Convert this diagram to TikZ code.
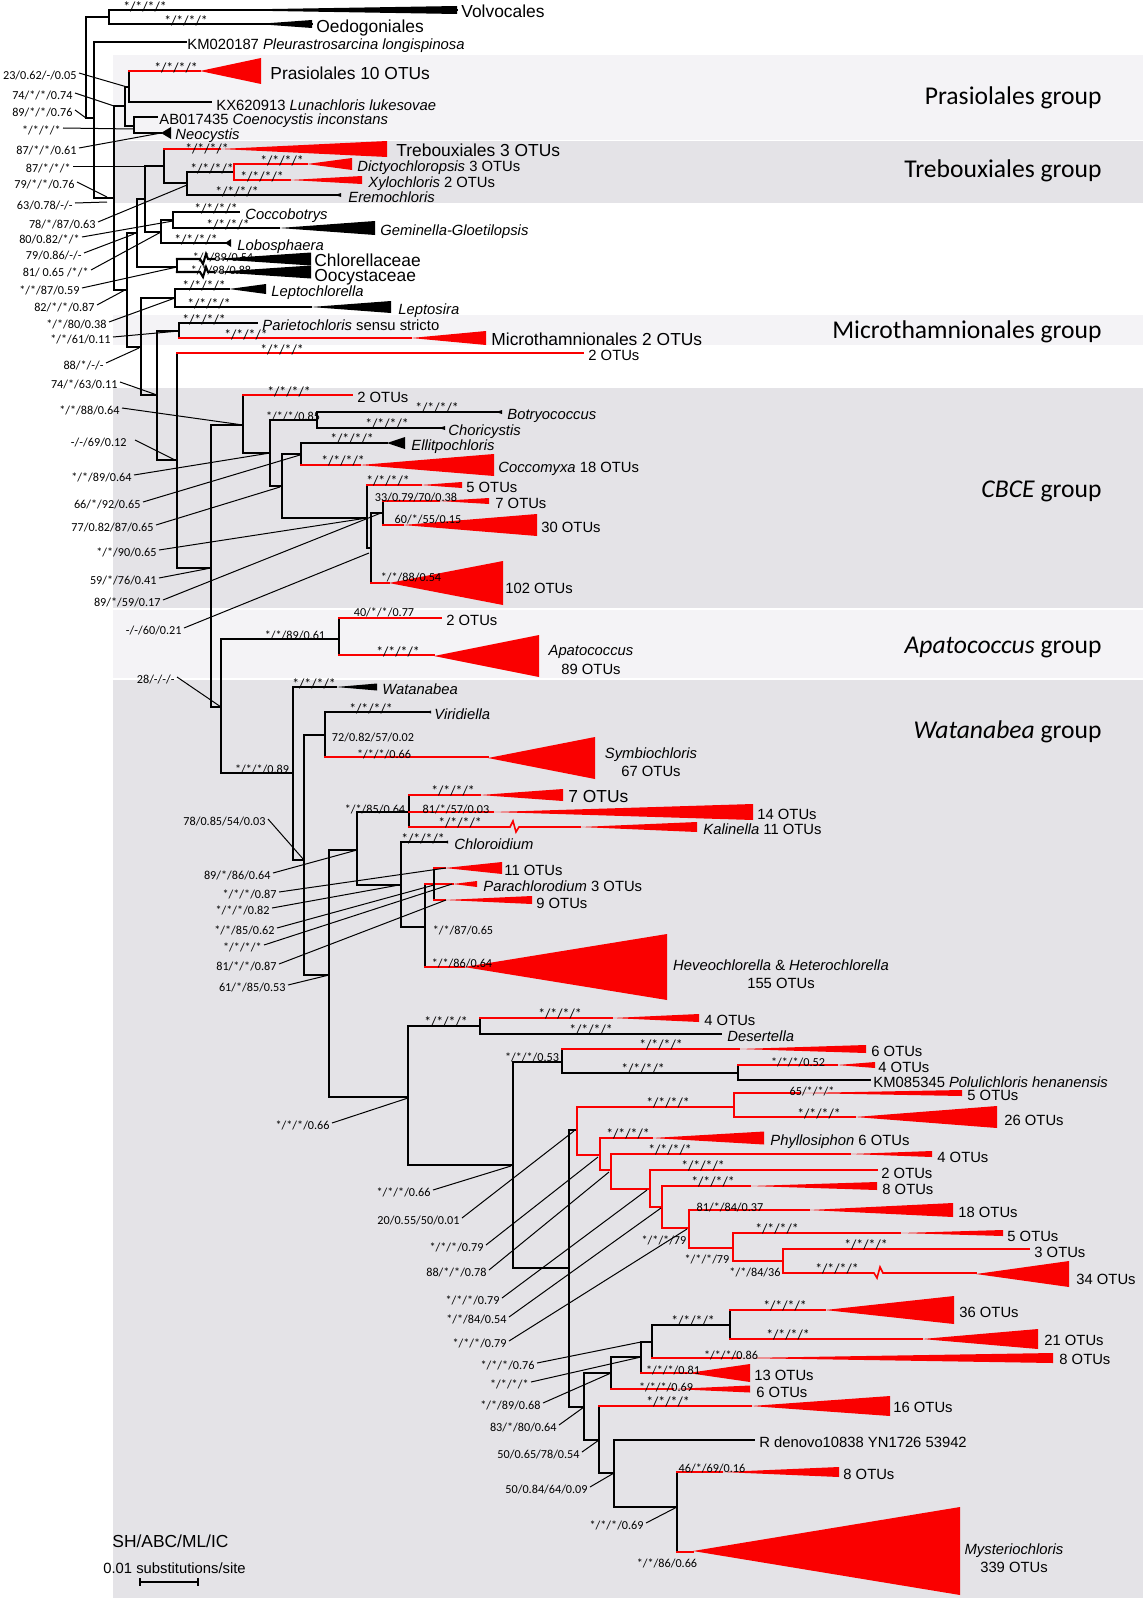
\documentclass[tikz,border=0pt]{standalone}
\usepackage{fontspec}
\setmainfont{Liberation Sans}
\newfontfamily\supf{Carlito}
\definecolor{tred}{RGB}{250,0,0}
\definecolor{bandL}{RGB}{244,243,246}
\definecolor{bandD}{RGB}{228,227,231}
\newcommand\fsup{\fontsize{6.1}{6.5}\selectfont\supf}
\newcommand\fsta{\fontsize{6.9}{7}\selectfont\supf}
\newcommand\fnorm{\fontsize{7.4}{8.5}\selectfont}
\newcommand\fbig{\fontsize{8.7}{10}\selectfont}
\newcommand\fgrp{\fontsize{12.8}{14}\selectfont\supf}
\newcommand\hl[3]{\draw[br] (#1,#3) -- (#2,#3);}
\newcommand\vl[3]{\draw[br] (#1,#2) -- (#1,#3);}
\newcommand\rh[3]{\draw[rb] (#1,#3) -- (#2,#3);}
\newcommand\rv[3]{\draw[rb] (#1,#2) -- (#1,#3);}
\newcommand\wdg[5]{\fill[#1] (#2,#4) -- (#3,{#4-#5}) -- (#3,{#4+#5}) -- cycle;}
\newcommand\sv[3]{\node[sp] at (#1,#2) {#3};}
\newcommand\sa[2]{\node[sp,font=\fsta] at (#1,#2) {*/*/*/*};}
\newcommand\pl[6]{\node[sp,anchor=east] (#1) at (#2,#3) {#4}; \draw[ptr] ([xshift=1pt]#1.east) -- (#5,#6);}
\begin{document}
\begin{tikzpicture}[x=0.5pt,y=-0.5pt,
  br/.style={line width=1.05pt,line cap=rect},
  rb/.style={tred,line width=0.8pt,line cap=rect},
  ptr/.style={line width=0.5pt},
  sp/.style={font=\fsup,inner sep=0pt,text height=0.65em,text depth=0pt,anchor=center},
  lab/.style={font=\fnorm,inner sep=0pt,anchor=west,text height=0.72em,text depth=0pt},
  big/.style={lab,font=\fbig},
  grp/.style={font=\fgrp,inner sep=0pt,anchor=east,text height=0.65em,text depth=0pt}]
\useasboundingbox (0,0) rectangle (1146,1600);
% bands
\fill[bandL] (113,55) rectangle (1143,140);
\fill[bandD] (113,141) rectangle (1143,203);
\fill[bandL] (113,315) rectangle (1143,345);
\fill[bandD] (113,388) rectangle (1143,608);
\fill[bandL] (113,610) rectangle (1143,678);
\fill[bandD] (113,680) rectangle (1143,1598);
\node[grp] (g1) at (1102,98) {Prasiolales group};
\node[grp] (g2) at (1102,171) {Trebouxiales group};
\node[grp] (g3) at (1102,332) {Microthamnionales group};
\node[grp] (g4) at (1102,491) {\textit{CBCE} group};
\node[grp] (g5) at (1102,647) {\textit{Apatococcus} group};
\node[grp] (g6) at (1102,732) {\textit{Watanabea} group};
% ---------------- tree: top
\hl{109}{457}{10} \wdg{black}{211}{457}{10}{4}
\hl{109}{312}{24} \wdg{black}{257}{312}{24}{4}
\vl{109}{10}{24}
\hl{86}{109}{17}
\vl{86}{17}{118}
\hl{86}{94}{118}
\hl{94}{186}{42}
\vl{94}{42}{198}
\hl{94}{114}{198}
\vl{114}{106}{290}
\hl{114}{125}{106}
\vl{125}{87}{126}
\hl{125}{129}{87}
\vl{129}{71}{102}
\rh{129}{200}{71} \wdg{tred}{200}{261}{71}{13}
\hl{129}{211}{102}
\hl{125}{134}{126}
\vl{134}{117}{133}
\hl{134}{157}{117}
\hl{134}{161}{133} \wdg{black}{161}{171}{133}{6}
\hl{114}{127}{290}
\vl{127}{233}{347}
\hl{127}{137}{233}
\vl{137}{199}{267}
\hl{137}{145}{199}
\vl{145}{166}{232}
\hl{145}{164}{166}
\vl{164}{149}{183}
\rh{164}{220}{149} \wdg{tred}{220}{387}{149}{8}
\hl{164}{187}{183}
\vl{187}{172}{195}
\hl{187}{234}{172}
\rv{234}{164}{180}
\rh{234}{307}{164} \wdg{tred}{307}{352}{164}{6}
\rh{234}{290}{180} \wdg{tred}{290}{362}{180}{4}
\hl{187}{337}{195} \wdg{black}{335}{341}{195}{2}
\hl{145}{161}{232}
\vl{161}{220}{243}
\hl{161}{173}{220}
\vl{173}{212}{228}
\hl{173}{239}{212}
\hl{173}{279}{228} \wdg{black}{279}{375}{228}{7}
\hl{161}{225}{243} \wdg{black}{225}{231}{243}{4}
\hl{137}{177}{267}
\vl{177}{259}{272}
\draw[br] (177,259) -- (200,259) -- (203,264) -- (206,254) -- (208,259) -- (214,259);
\wdg{black}{214}{311}{259}{6.5}
\draw[br] (177,272) -- (200,272) -- (203,277) -- (206,267) -- (208,272) -- (214,272);
\wdg{black}{214}{311}{272}{6.5}
\hl{127}{141}{347}
\vl{141}{298}{395}
\hl{141}{175}{298}
\vl{175}{289}{307}
\hl{175}{229}{289} \wdg{black}{229}{266}{289}{5}
\hl{175}{311}{307} \wdg{black}{311}{391}{307}{6}
\hl{141}{157}{395}
\vl{157}{331}{460}
\hl{157}{179}{331}
\vl{179}{323}{338}
\hl{179}{257}{323}
\rh{179}{411}{338} \wdg{tred}{411}{486}{338}{7}
\hl{157}{177}{460}
\vl{177}{353}{568}
\rh{177}{583}{353}
\hl{177}{211}{568}
% CBCE
\vl{211}{425}{707}
\hl{211}{243}{425}
\vl{243}{395}{453}
\rh{243}{352}{395}
\hl{243}{270}{453}
\vl{270}{420}{486}
\hl{270}{317}{420}
\vl{317}{412}{428}
\hl{317}{498}{412} \wdg{black}{496}{502}{412}{2}
\hl{317}{441}{428} \wdg{black}{439}{445}{428}{2}
\hl{270}{282}{486}
\vl{282}{454}{518}
\hl{282}{301}{454}
\vl{301}{443}{465}
\hl{301}{387}{443} \wdg{black}{387}{405}{443}{6}
\rh{301}{360}{465} \wdg{tred}{360}{494}{465}{11}
\hl{282}{367}{518}
\vl{367}{485}{548}
\rh{367}{421}{485} \wdg{tred}{421}{462}{485}{3}
\hl{367}{371}{548}
\vl{371}{513}{583}
\hl{371}{383}{513}
\vl{383}{501}{525}
\rh{383}{439}{501} \wdg{tred}{439}{489}{501}{3}
\rh{383}{403}{525} \wdg{tred}{403}{537}{525}{11}
\rh{371}{389}{583} \wdg{tred}{389}{503}{583}{22}
% Apatococcus
\hl{211}{221}{707}
\vl{221}{639}{773}
\hl{221}{339}{639}
\vl{339}{618}{655}
\rh{339}{441}{618}
\rh{339}{434}{655} \wdg{tred}{434}{539}{656}{21}
% Watanabea
\hl{221}{293}{773}
\vl{293}{687}{860}
\hl{293}{336}{687} \wdg{black}{336}{377}{687}{3.5}
\hl{293}{304}{860}
\vl{304}{735}{975}
\hl{304}{325}{735}
\vl{325}{712}{757}
\hl{325}{429}{712} \wdg{black}{427}{431}{712}{1.5}
\rh{325}{488}{757} \wdg{tred}{488}{595}{758}{21}
\hl{304}{329}{975}
\vl{329}{850}{1097}
\hl{329}{357}{850}
\vl{357}{812}{885}
\hl{357}{409}{812}
\vl{409}{795}{827}
\rh{409}{480}{795} \wdg{tred}{480}{563}{795}{6}
\rh{409}{493}{812} \wdg{tred}{493}{753}{812}{8}
\draw[rb] (409,827) -- (510,827) -- (513,821) -- (516,832) -- (519,827) -- (580,827);
\wdg{tred}{580}{697}{827}{5}
\hl{357}{401}{885}
\vl{401}{842}{927}
\hl{401}{446}{842} \wdg{black}{444}{448}{842}{1.5}
\hl{401}{425}{927}
\vl{425}{884}{967}
\rh{425}{453}{884} \wdg{tred}{453}{477}{884}{3}
\vl{434}{868}{900}
\rh{434}{445}{868} \wdg{tred}{445}{502}{868}{6}
\rh{434}{445}{900} \wdg{tred}{445}{532}{900}{4}
\rh{425}{464}{967} \wdg{tred}{464}{667}{967}{33}
\hl{329}{408}{1097}
\vl{408}{1026}{1165}
\hl{408}{480}{1026}
\vl{480}{1018}{1034}
\rh{480}{612}{1018} \wdg{tred}{612}{699}{1018}{4}
\hl{480}{721}{1034}
\hl{408}{513}{1165}
\vl{513}{1062}{1268}
\hl{513}{562}{1062}
\vl{562}{1049}{1073}
\rh{562}{739}{1049} \wdg{tred}{739}{866}{1049}{4}
\hl{562}{738}{1073}
\vl{738}{1065}{1080}
\rh{738}{837}{1065} \wdg{tred}{837}{875}{1065}{3}
\hl{738}{870}{1080}
\hl{513}{569}{1268}
\vl{569}{1130}{1407}
\hl{569}{577}{1130}
\rv{577}{1107}{1155}
\rh{577}{734}{1107}
\rv{734}{1093}{1117}
\rh{734}{800}{1093} \wdg{tred}{800}{962}{1093}{3}
\rh{734}{855}{1117} \wdg{tred}{855}{997}{1117}{11}
\rh{577}{600}{1155}
\rv{600}{1138}{1170}
\rh{600}{652}{1138} \wdg{tred}{652}{764}{1138}{6.5}
\rh{600}{611}{1170}
\rv{611}{1154}{1189}
\rh{611}{850}{1154} \wdg{tred}{850}{932}{1154}{3}
\rh{611}{650}{1189}
\rv{650}{1170}{1207}
\rh{650}{877}{1170}
\rh{650}{662}{1207}
\rv{662}{1186}{1228}
\rh{662}{750}{1186} \wdg{tred}{750}{877}{1186}{4}
\rh{662}{689}{1228}
\rv{689}{1210}{1248}
\rh{689}{809}{1210} \wdg{tred}{809}{953}{1210}{7}
\rh{689}{733}{1248}
\rv{733}{1233}{1261}
\rh{733}{900}{1233} \wdg{tred}{900}{1003}{1233}{3}
\rh{733}{783}{1261}
\rv{783}{1249}{1273}
\rh{783}{1029}{1249}
\draw[rb] (783,1273) -- (874,1273) -- (877,1278) -- (880,1267) -- (883,1273) -- (976,1273);
\wdg{tred}{976}{1069}{1274}{13}
\hl{569}{584}{1407}
\vl{584}{1373}{1440}
\hl{584}{611}{1373}
\vl{611}{1357}{1389}
\hl{611}{641}{1357}
\vl{641}{1342}{1373}
\hl{641}{652}{1342}
\vl{652}{1325}{1358}
\hl{652}{730}{1325}
\vl{730}{1310}{1339}
\rh{730}{825}{1310} \wdg{tred}{825}{954}{1310}{14}
\rh{730}{922}{1339} \wdg{tred}{922}{1038}{1339}{10}
\rh{652}{740}{1358} \wdg{tred}{740}{1053}{1358}{5}
\rh{641}{688}{1373} \wdg{tred}{688}{750}{1373}{9}
\rh{611}{673}{1389} \wdg{tred}{673}{750}{1389}{3.5}
\hl{584}{599}{1440}
\vl{599}{1406}{1473}
\rh{599}{751}{1406} \wdg{tred}{751}{890}{1406}{10}
\hl{599}{614}{1473}
\vl{614}{1440}{1507}
\hl{614}{754}{1440}
\hl{614}{677}{1507}
\vl{677}{1472}{1552}
\rh{677}{722}{1472} \wdg{tred}{722}{839}{1472}{5}
\rh{677}{693}{1552} \wdg{tred}{693}{960}{1551}{44}
% ---------------- taxon labels
\node[big] (lVol) at (461,10) {Volvocales};
\node[big] (lOed) at (316,25) {Oedogoniales};
\node[lab] (lKM) at (187,42) {KM020187 \textit{Pleurastrosarcina longispinosa}};
\node[big] (lPra) at (270,72) {Prasiolales 10 OTUs};
\node[lab] (lKX) at (216,103) {KX620913 \textit{Lunachloris lukesovae}};
\node[lab] (lAB) at (159,117) {AB017435 \textit{Coenocystis inconstans}};
\node[lab] (lNeo) at (175,132) {\textit{Neocystis}};
\node[big] (lTre) at (396,149) {Trebouxiales 3 OTUs};
\node[lab] (lDic) at (357,164) {\textit{Dictyochloropsis} 3 OTUs};
\node[lab] (lXyl) at (368,180) {\textit{Xylochloris} 2 OTUs};
\node[lab] (lEre) at (348,195) {\textit{Eremochloris}};
\node[lab] (lCoc) at (245,212) {\textit{Coccobotrys}};
\node[lab] (lGem) at (380,228) {\textit{Geminella-Gloetilopsis}};
\node[lab] (lLob) at (237,243) {\textit{Lobosphaera}};
\node[big] (lChl) at (314,259) {Chlorellaceae};
\node[big] (lOoc) at (314,274) {Oocystaceae};
\node[lab] (lLch) at (271,289) {\textit{Leptochlorella}};
\node[lab] (lLsi) at (398,307) {\textit{Leptosira}};
\node[lab] (lPar) at (262,323) {\textit{Parietochloris} sensu stricto};
\node[big] (lMic) at (491,338) {Microthamnionales 2 OTUs};
\node[lab] (l2a) at (588,353) {2 OTUs};
\node[lab] (l2b) at (357,395) {2 OTUs};
\node[lab] (lBot) at (507,412) {\textit{Botryococcus}};
\node[lab] (lCho) at (448,428) {\textit{Choricystis}};
\node[lab] (lEll) at (411,443) {\textit{Ellitpochloris}};
\node[lab] (lCcm) at (498,465) {\textit{Coccomyxa} 18 OTUs};
\node[lab] (l5a) at (466,485) {5 OTUs};
\node[lab] (l7a) at (495,501) {7 OTUs};
\node[lab] (l30) at (541,525) {30 OTUs};
\node[lab] (l102) at (505,586) {102 OTUs};
\node[lab] (l2c) at (446,618) {2 OTUs};
\node[lab,anchor=center] (lApa) at (591,648) {\textit{Apatococcus}};
\node[lab,anchor=center] (lApb) at (591,667) {89 OTUs};
\node[lab] (lWat) at (382,687) {\textit{Watanabea}};
\node[lab] (lVir) at (434,712) {\textit{Viridiella}};
\node[lab,anchor=center] (lSya) at (651,751) {\textit{Symbiochloris}};
\node[lab,anchor=center] (lSyb) at (651,769) {67 OTUs};
\node[big] (l7b) at (568,795) {7 OTUs};
\node[lab] (l14) at (757,812) {14 OTUs};
\node[lab] (lKal) at (703,827) {\textit{Kalinella} 11 OTUs};
\node[lab] (lClo) at (454,842) {\textit{Chloroidium}};
\node[lab] (l11) at (504,868) {11 OTUs};
\node[lab] (lPch) at (483,884) {\textit{Parachlorodium} 3 OTUs};
\node[lab] (l9) at (536,901) {9 OTUs};
\node[lab,anchor=center] (lHea) at (781,963) {\textit{Heveochlorella} \& \textit{Heterochlorella}};
\node[lab,anchor=center] (lHeb) at (781,981) {155 OTUs};
\node[lab] (l4a) at (704,1018) {4 OTUs};
\node[lab] (lDes) at (727,1034) {\textit{Desertella}};
\node[lab] (l6a) at (871,1049) {6 OTUs};
\node[lab] (l4b) at (878,1065) {4 OTUs};
\node[lab] (lPol) at (873,1080) {KM085345 \textit{Polulichloris henanensis}};
\node[lab] (l5b) at (967,1093) {5 OTUs};
\node[lab] (l26) at (1004,1118) {26 OTUs};
\node[lab] (lPhy) at (770,1138) {\textit{Phyllosiphon} 6 OTUs};
\node[lab] (l4c) at (937,1155) {4 OTUs};
\node[lab] (l2d) at (881,1171) {2 OTUs};
\node[lab] (l8a) at (882,1187) {8 OTUs};
\node[lab] (l18) at (958,1210) {18 OTUs};
\node[lab] (l5c) at (1007,1234) {5 OTUs};
\node[lab] (l3) at (1034,1250) {3 OTUs};
\node[lab] (l34) at (1076,1277) {34 OTUs};
\node[lab] (l36) at (959,1310) {36 OTUs};
\node[lab] (l21) at (1044,1338) {21 OTUs};
\node[lab] (l8b) at (1059,1357) {8 OTUs};
\node[lab] (l13) at (754,1373) {13 OTUs};
\node[lab] (l6b) at (756,1390) {6 OTUs};
\node[lab] (l16) at (893,1405) {16 OTUs};
\node[lab] (lRde) at (759,1440) {R denovo10838 YN1726 53942};
\node[lab] (l8c) at (843,1472) {8 OTUs};
\node[lab,anchor=center] (lMya) at (1014,1547) {\textit{Mysteriochloris}};
\node[lab,anchor=center] (lMyb) at (1014,1565) {339 OTUs};
\node[big] (lSH) at (112,1540) {SH/ABC/ML/IC};
\node[lab] (lSc) at (103,1566) {0.01 substitutions/site};
\coordinate (sb1) at (140,1582); \coordinate (sb2) at (198,1582);
\draw[line width=0.8pt] (sb1) -- (sb2);
\draw[line width=0.8pt] ([yshift=2pt]sb1) -- ([yshift=-2pt]sb1);
\draw[line width=0.8pt] ([yshift=2pt]sb2) -- ([yshift=-2pt]sb2);
% ---------------- support values on branches
\sa{145}{5} \sa{186}{19} \sa{176}{66}
\sa{207}{147} \sa{212}{167} \sa{282}{159}
\sa{262}{175} \sa{237}{190}
\sa{216}{207} \sa{228}{223} \sa{196}{238}
\sv{223}{255}{*/*/89/0.54} \sv{221}{268}{*/*/98/0.88}
\sa{204}{284} \sa{209}{302}
\sa{204}{318} \sa{246}{333} \sa{282}{348}
\sa{289}{390} \sv{293}{414}{*/*/*/0.85}
\sa{437}{406} \sa{387}{422} \sa{352}{437} \sa{343}{459}
\sa{388}{479} \sv{416}{495}{33/0.79/70/0.38} \sv{428}{517}{60/*/55/0.15}
\sv{411}{575}{*/*/88/0.54}
\sv{384}{610}{40/*/*/0.77} \sv{295}{633}{*/*/89/0.61} \sa{398}{650}
\sa{314}{682} \sv{262}{767}{*/*/*/0.89}
\sa{371}{707} \sv{373}{735}{72/0.82/57/0.02} \sv{384}{752}{*/*/*/0.66}
\sa{453}{789} \sv{375}{807}{*/*/85/0.64} \sv{456}{807}{81/*/57/0.03} \sa{460}{821}
\sa{423}{837}
\sv{463}{928}{*/*/87/0.65} \sv{462}{961}{*/*/86/0.64}
\sa{446}{1020} \sa{560}{1012} \sa{591}{1028}
\sv{532}{1055}{*/*/*/0.53} \sa{661}{1043} \sa{643}{1067} \sv{798}{1060}{*/*/*/0.52}
\sa{668}{1101} \sv{812}{1089}{65/*/*/*} \sa{819}{1112}
\sa{628}{1132} \sa{670}{1148} \sa{703}{1164} \sa{713}{1180}
\sv{730}{1205}{81/*/84/0.37}
\sv{664}{1238}{*/*/*/79} \sv{707}{1257}{*/*/*/79} \sv{755}{1270}{*/*/84/36}
\sa{777}{1227} \sa{866}{1243} \sa{837}{1267}
\sa{693}{1319} \sa{785}{1304} \sa{788}{1333} \sv{731}{1353}{*/*/*/0.86}
\sv{673}{1368}{*/*/*/0.81} \sv{666}{1385}{*/*/*/0.69} \sa{668}{1400}
\sv{712}{1466}{46/*/69/0.16} \sv{667}{1561}{*/*/86/0.66}
% ---------------- support values with leader lines
\pl{p1}{77}{73}{23/0.62/-/0.05}{127}{87}
\pl{p2}{73}{93}{74/*/*/0.74}{114}{106}
\pl{p3}{73}{110}{89/*/*/0.76}{86}{118}
\pl{p4}{61}{128}{*/*/*/*}{133}{129}
\pl{p5}{77}{148}{87/*/*/0.61}{161}{133}
\pl{p6}{71}{166}{87/*/*/*}{145}{166}
\pl{p7}{75}{182}{79/*/*/0.76}{107}{197}
\pl{p8}{73}{203}{63/0.78/-/-}{107}{202}
\pl{p9}{96}{222}{78/*/87/0.63}{187}{185}
\pl{p10}{80}{237}{80/0.82/*/*}{173}{221}
\pl{p11}{82}{253}{79/0.86/-/-}{134}{234}
\pl{p12}{89}{270}{81/ 0.65 /*/*}{161}{232}
\pl{p13}{80}{288}{*/*/87/0.59}{177}{267}
\pl{p14}{95}{305}{82/*/*/0.87}{125}{290}
\pl{p15}{107}{322}{*/*/80/0.38}{175}{298}
\pl{p16}{111}{337}{*/*/61/0.11}{179}{331}
\pl{p17}{104}{363}{88/*/-/-}{139}{348}
\pl{p18}{118}{382}{74/*/63/0.11}{157}{395}
\pl{p19}{120}{408}{*/*/88/0.64}{243}{425}
\node[sp,anchor=east] (p20) at (127,440) {-/-/69/0.12}; \draw[ptr] ([xshift=4pt]p20.east) -- (175,460);
\pl{p21}{132}{475}{*/*/89/0.64}{270}{453}
\pl{p22}{141}{502}{66/*/92/0.65}{300}{455}
\pl{p23}{154}{525}{77/0.82/87/0.65}{280}{487}
\pl{p24}{157}{550}{*/*/90/0.65}{367}{518}
\pl{p25}{157}{578}{59/*/76/0.41}{211}{568}
\pl{p26}{161}{600}{89/*/59/0.17}{381}{513}
\pl{p27}{182}{628}{-/-/60/0.21}{369}{553}
\pl{p28}{175}{677}{28/-/-/-}{221}{707}
\pl{p29}{266}{819}{78/0.85/54/0.03}{304}{860}
\pl{p30}{271}{873}{89/*/86/0.64}{357}{850}
\pl{p31}{277}{892}{*/*/*/0.87}{446}{868}
\pl{p32}{270}{908}{*/*/*/0.82}{399}{885}
\pl{p33}{275}{928}{*/*/85/0.62}{434}{885}
\pl{p34}{262}{945}{*/*/*/*}{452}{884}
\pl{p35}{277}{964}{81/*/*/0.87}{446}{900}
\pl{p36}{286}{985}{61/*/85/0.53}{329}{975}
\pl{p37}{330}{1123}{*/*/*/0.66}{408}{1098}
\pl{p38}{431}{1190}{*/*/*/0.66}{511}{1166}
\pl{p39}{460}{1218}{20/0.55/50/0.01}{574}{1131}
\pl{p40}{484}{1245}{*/*/*/0.79}{598}{1157}
\pl{p41}{487}{1270}{88/*/*/0.78}{609}{1172}
\pl{p42}{500}{1298}{*/*/*/0.79}{647}{1190}
\pl{p43}{507}{1317}{*/*/84/0.54}{661}{1208}
\pl{p44}{507}{1341}{*/*/*/0.79}{687}{1229}
\pl{p45}{535}{1363}{*/*/*/0.76}{641}{1342}
\pl{p46}{529}{1382}{*/*/*/*}{641}{1357}
\pl{p47}{541}{1403}{*/*/89/0.68}{611}{1373}
\pl{p48}{557}{1425}{83/*/80/0.64}{584}{1407}
\pl{p49}{580}{1452}{50/0.65/78/0.54}{599}{1440}
\pl{p50}{588}{1487}{50/0.84/64/0.09}{614}{1473}
\pl{p51}{644}{1523}{*/*/*/0.69}{677}{1507}
\end{tikzpicture}
\end{document}
